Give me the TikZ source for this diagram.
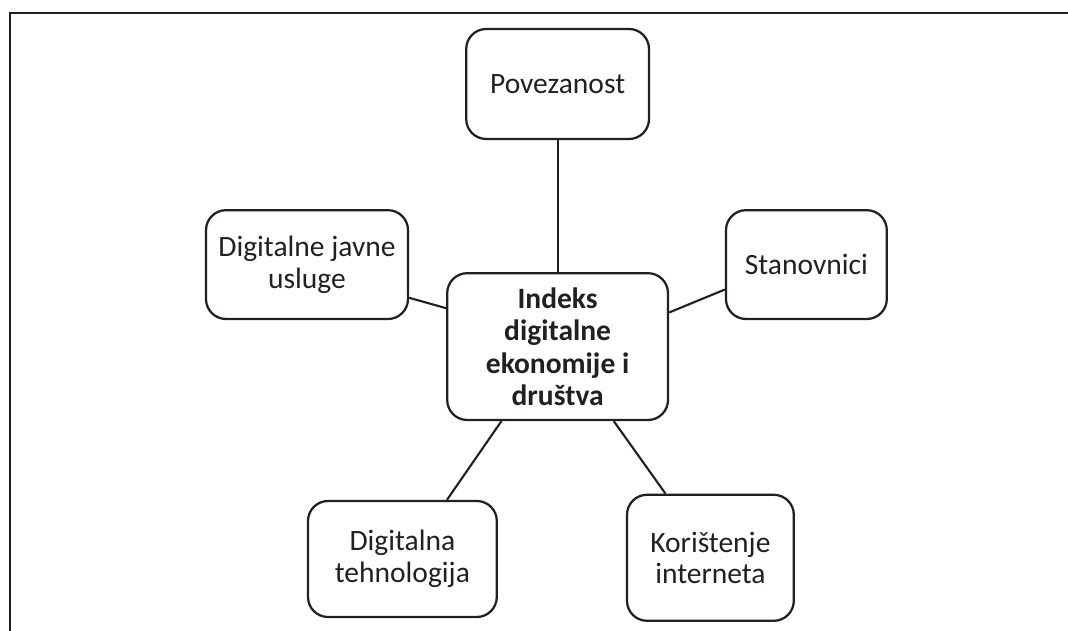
\documentclass[tikz,border=0pt]{standalone}
\usepackage{fontspec}
\setmainfont{Carlito}
\definecolor{ink}{HTML}{231F20}
\tikzset{
    topic/.style={draw=ink, line width=1.6pt, rounded corners=0.5cm, align=center, text=ink, inner sep=0pt, font=\fontsize{21}{22.5}\selectfont},
    link/.style={draw=ink, line width=1.5pt},
}

\begin{document}
\begin{tikzpicture}
        \useasboundingbox (0,0) rectangle (26.7,15.775);

        % Frame (top and left only)
        \draw[ink, line width=1.6pt] (26.7,15.45) -- (0.25,15.45) -- (0.25,0);

        % Centre box
        \node[topic, minimum width=5.52cm, minimum height=3.67cm, font=\fontsize{21}{23}\selectfont\bfseries] (desi) at (13.94, 7.11) {Indeks\\digitalne\\ekonomije i\\društva};

        % Outer boxes
        \node[topic, minimum width=4.57cm, minimum height=2.75cm] (povezanost) at (13.94, 13.675) {Povezanost};
        \node[topic, minimum width=5.05cm, minimum height=2.72cm] (usluge) at (7.675, 9.16) {Digitalne javne\\usluge};
        \node[topic, minimum width=4.02cm, minimum height=2.72cm] (stanovnici) at (20.16, 9.16) {Stanovnici};
        \node[topic, minimum width=4.72cm, minimum height=2.90cm] (tehnologija) at (10.06, 1.8) {Digitalna\\tehnologija};
        \node[topic, minimum width=4.17cm, minimum height=3.15cm] (internet) at (17.76, 1.83) {Korištenje\\interneta};

        % Connectors
        \draw[link] (desi.north) -- (povezanost.south); % straight up
        \draw[link] (desi.161.7) -- (usluge.-18.3); % left
        \draw[link] (desi.17.8) -- (stanovnici.197.6); % right
        \draw[link] (desi.233.4) -- (tehnologija.53.8); % lower left
        \draw[link] (desi.-53.4) -- (internet.125.8); % lower right

    \end{tikzpicture}
\end{document}
